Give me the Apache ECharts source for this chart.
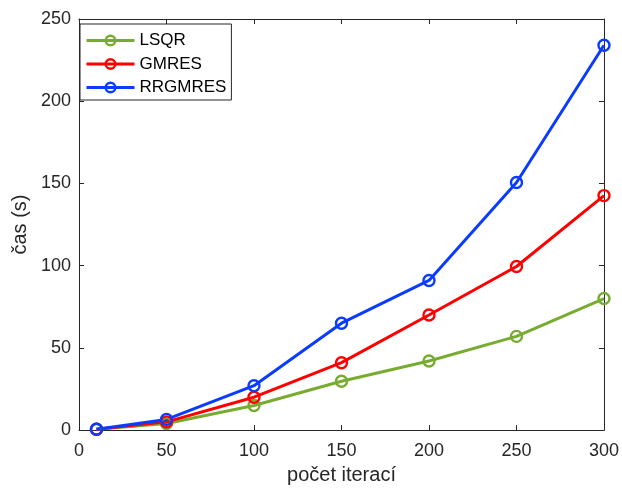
<!DOCTYPE html>
<html>
<head>
<meta charset="utf-8">
<script src="https://cdn.jsdelivr.net/npm/echarts@6/dist/echarts.min.js"></script>
<style>
  html, body { margin: 0; padding: 0; background: #fff; }
  #chart { width: 622px; height: 490px; }
</style>
</head>
<body>
<div id="chart"></div>
<script>
// Iteration counts and computation times (seconds) per solver
const iterations = [10, 50, 100, 150, 200, 250, 300];
const lsqr    = [0.5, 4, 15, 29.7, 42, 57, 80];
const gmres   = [0.5, 5, 20, 41, 70, 99.5, 142.6];
const rrgmres = [0.5, 6.5, 27, 65, 91, 150.6, 234];

const seriesNames = ['LSQR', 'GMRES', 'RRGMRES'];
const seriesColors = ['#77ac30', '#ff0000', '#0a3cff'];
const xTicks = [0, 50, 100, 150, 200, 250, 300];
const yTicks = [0, 50, 100, 150, 200, 250];

const axisColor = '#262626';
const fontFamily = 'Liberation Sans, Arial, sans-serif';

function pairs(ys) {
  return iterations.map((x, i) => [x, ys[i]]);
}

function lineSeries(name, ys, color) {
  return {
    name: name,
    type: 'line',
    data: pairs(ys),
    symbol: 'circle',
    symbolSize: 11,
    showAllSymbol: true,
    lineStyle: { color: color, width: 3 },
    itemStyle: { color: 'rgba(255,255,255,0)', borderColor: color, borderWidth: 2.4 },
    emphasis: { disabled: true },
    z: 3
  };
}

const chart = echarts.init(document.getElementById('chart'), null, { renderer: 'canvas' });

const tickStyle = { show: true, inside: true, length: 5, lineStyle: { color: axisColor, width: 1 } };
const frameLine = { show: true, onZero: false, lineStyle: { color: axisColor, width: 1 } };

chart.setOption({
  animation: false,
  backgroundColor: '#fff',
  textStyle: { fontFamily: fontFamily },
  grid: [{ left: 79, right: 18, top: 19, bottom: 59 }],
  legend: {
    orient: 'vertical',
    left: 80,
    top: 24,
    data: seriesNames,
    itemWidth: 48,
    itemHeight: 12,
    itemGap: 4.5,
    padding: [7, 5, 3, 5],
    borderColor: axisColor,
    borderWidth: 1,
    backgroundColor: '#fff',
    lineStyle: { width: 3 },
    itemStyle: { borderWidth: 2.4 },
    textStyle: { fontSize: 17, lineHeight: 19, color: '#000', fontFamily: fontFamily, padding: [0, 0, 0, 0] }
  },
  xAxis: [
    {
      type: 'value',
      min: xTicks[0],
      max: xTicks[xTicks.length - 1],
      interval: xTicks[1] - xTicks[0],
      name: 'počet iterací',
      nameLocation: 'middle',
      nameGap: 34,
      nameTextStyle: { fontSize: 20, color: axisColor, fontFamily: fontFamily },
      axisLine: frameLine,
      axisTick: tickStyle,
      axisLabel: { fontSize: 18, color: axisColor, margin: 12, fontFamily: fontFamily },
      splitLine: { show: false }
    },
    {
      type: 'value',
      position: 'top',
      min: xTicks[0],
      max: xTicks[xTicks.length - 1],
      interval: xTicks[1] - xTicks[0],
      axisLine: frameLine,
      axisTick: tickStyle,
      axisLabel: { show: false },
      splitLine: { show: false }
    }
  ],
  yAxis: [
    {
      type: 'value',
      min: yTicks[0],
      max: yTicks[yTicks.length - 1],
      interval: yTicks[1] - yTicks[0],
      name: 'čas (s)',
      nameLocation: 'middle',
      nameGap: 49,
      nameTextStyle: { fontSize: 20, color: axisColor, fontFamily: fontFamily },
      axisLine: frameLine,
      axisTick: tickStyle,
      axisLabel: { fontSize: 18, color: axisColor, margin: 8, fontFamily: fontFamily },
      splitLine: { show: false }
    },
    {
      type: 'value',
      position: 'right',
      min: yTicks[0],
      max: yTicks[yTicks.length - 1],
      interval: yTicks[1] - yTicks[0],
      axisLine: frameLine,
      axisTick: tickStyle,
      axisLabel: { show: false },
      splitLine: { show: false }
    }
  ],
  series: [
    lineSeries(seriesNames[0], lsqr, seriesColors[0]),
    lineSeries(seriesNames[1], gmres, seriesColors[1]),
    lineSeries(seriesNames[2], rrgmres, seriesColors[2])
  ]
});
</script>
</body>
</html>
